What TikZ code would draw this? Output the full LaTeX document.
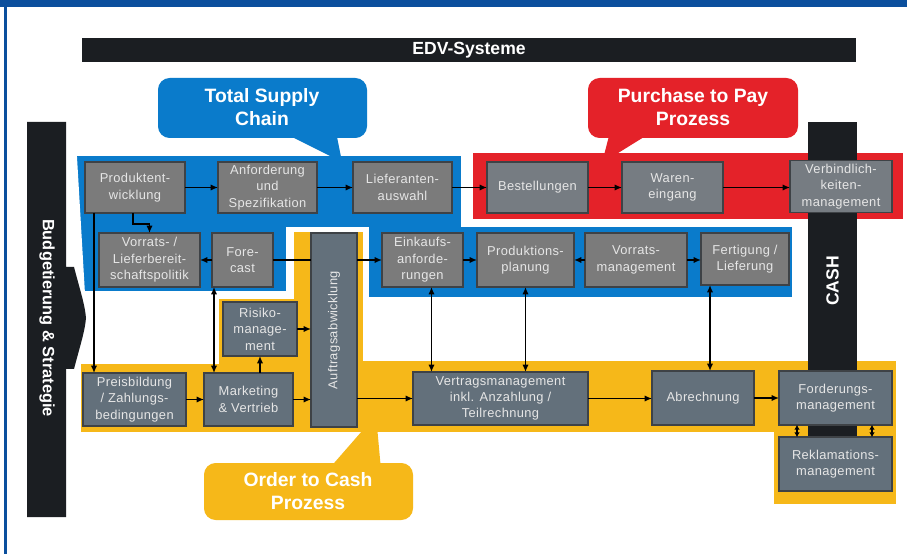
\documentclass[tikz,border=0pt]{standalone}
\usepackage{graphicx}
\usepackage{fontspec}
\setmainfont{Liberation Sans}
\newfontfamily\boxfont[LetterSpace=3]{Liberation Sans}
\usetikzlibrary{arrows.meta}
\definecolor{frameblue}{HTML}{0B4F9D}
\definecolor{tscblue}{HTML}{0A7BCB}
\definecolor{ptpred}{HTML}{E42229}
\definecolor{otcyellow}{HTML}{F6B819}
\definecolor{barblack}{HTML}{1B1E22}
\definecolor{boxgray}{HTML}{7B7B7B}
\definecolor{boxredgray}{HTML}{767C82}
\definecolor{boxslate}{HTML}{63707B}
\definecolor{boxedge}{HTML}{3E4246}
\definecolor{boxtext}{HTML}{E6E6E6}
\tikzset{
  proc/.style={draw=boxedge, line width=0.9pt, fill=boxgray, text=boxtext, align=center,
    inner sep=1pt, outer sep=0pt, minimum height=15.9mm, font=\boxfont\fontsize{11}{14}\selectfont},
  procr/.style={proc, fill=boxredgray},
  procs/.style={proc, fill=boxslate},
  conn/.style={-{Latex[length=2.2mm,width=1.9mm]}, line width=1.5pt},
  conntwo/.style={{Latex[length=2.2mm,width=1.9mm]}-{Latex[length=2.2mm,width=1.9mm]}, line width=1.5pt},
  connshort/.style={{Latex[length=1.4mm,width=1.7mm]}-{Latex[length=1.4mm,width=1.7mm]}, line width=1.5pt},
  calltext/.style={text=white, align=center, font=\bfseries\fontsize{16.5}{19}\selectfont},
  bartext/.style={text=white, inner sep=0pt, font=\bfseries\fontsize{14}{16}\selectfont}
}
\begin{document}
\begin{tikzpicture}[x=0.3mm, y=-0.3mm]
  \useasboundingbox [fill=white] (0,0) rectangle (907,554);
  \fill [frameblue] (0,0) rectangle (907,7); \fill [frameblue] (4,0) rectangle (7,554);

  \filldraw [fill=tscblue, draw=white, line width=1.5pt] (76,155) -- (462,155) -- (462,226)
    -- (793,226) -- (793,298) -- (368,298) -- (368,228) -- (287,228) -- (287,292) -- (84,292) -- cycle;
  \filldraw [fill=ptpred, draw=white, line width=1.5pt] (472,152) rectangle (904,220);
  \filldraw [fill=otcyellow, draw=white, line width=1.5pt] (80,363) -- (218,363) -- (218,298)
    -- (293,298) -- (293,231) -- (364,231) -- (364,360) -- (897,360) -- (897,505) -- (773,505)
    -- (773,433) -- (80,433) -- cycle;

  \node [fill=barblack, minimum width=232.2mm, minimum height=7.2mm, bartext,
    font=\bfseries\fontsize{15}{17}\selectfont] (edv) at (469,50) {EDV-Systeme};
  \fill [barblack] (27,122) -- (66,122) -- (66,267) -- (74,267) .. controls (80,290) and (85,305)
    .. (86,318) .. controls (85,331) and (80,346) .. (74,369) -- (66,369) -- (66,517) -- (27,517) -- cycle;
  \node [bartext, rotate=-90] (budget) at (47,318) {Budgetierung \& Strategie};
  \fill [barblack] (808,122) rectangle (857,462);
  \node [bartext, rotate=90, font=\bfseries\fontsize{15}{17}\selectfont] (cash) at (832.5,281) {CASH};

  \fill [tscblue, rounded corners=3.5mm] (158,78) rectangle (367,138);
  \fill [tscblue] (282,132) -- (342,162) -- (336,132) -- cycle;
  \node [calltext] (tsc) at (262,107) {Total Supply\\Chain};
  \fill [ptpred, rounded corners=3.5mm] (588,78) rectangle (798,138);
  \fill [ptpred] (610,132) -- (602,163) -- (652,132) -- cycle;
  \node [calltext] (ptp) at (693,107) {Purchase to Pay\\Prozess};
  \fill [otcyellow, rounded corners=3.5mm] (204,463) rectangle (413,520);
  \fill [otcyellow] (328,470) -- (376,415) -- (381,470) -- cycle;
  \node [calltext] (otc) at (308,491) {Order to Cash\\Prozess};

  \node [proc, minimum width=30mm, minimum height=15.3mm] (prodent) at (135,187.5) {Produktent-\\wicklung};
  \node [proc, minimum width=29.7mm, minimum height=15.3mm] (anford) at (267.5,187.5) {Anforderung\\und\\Spezifikation};
  \node [proc, minimum width=29.7mm, minimum height=15.3mm] (liefaus) at (402.5,187.5) {Lieferanten-\\auswahl};
  \node [procr, minimum width=30.3mm, minimum height=15.3mm] (bestell) at (537.5,187.5) {Bestellungen};
  \node [procr, minimum width=30.3mm, minimum height=15.3mm] (waren) at (672.5,187.5) {Waren-\\eingang};
  \node [procr, minimum width=30.6mm, minimum height=15.6mm] (verbind) at (841,186.5) {Verbindlich-\\keiten-\\management};
  \node [proc, minimum width=30.3mm, minimum height=16.2mm] (vorrpol) at (149.5,260) {Vorrats- /\\Lieferbereit-\\schaftspolitik};
  \node [proc, minimum width=18.3mm, minimum height=16.2mm] (forecast) at (242.5,260) {Fore-\\cast};
  \node [procs, minimum width=13.8mm, minimum height=58.2mm] (auftrag) at (334,330) {\rotatebox{90}{Auftragsabwicklung}};
  \node [proc, minimum width=24.3mm, minimum height=16.2mm] (einkauf) at (422.5,260) {Einkaufs-\\anforde-\\rungen};
  \node [proc, minimum width=29.1mm, minimum height=16.2mm] (prodplan) at (525.5,260) {Produktions-\\planung};
  \node [proc, minimum width=30.6mm, minimum height=16.2mm] (vorrman) at (636,260) {Vorrats-\\management};
  \node [proc, minimum width=26.4mm, minimum height=15.6mm] (fertig) at (745,259) {Fertigung /\\Lieferung};
  \node [procs, minimum width=22.2mm, minimum height=16.2mm] (risiko) at (260,329) {Risiko-\\manage-\\ment};
  \node [procs, minimum width=30.9mm] (preis) at (134.5,399.5) {Preisbildung\\/ Zahlungs-\\bedingungen};
  \node [procs, minimum width=26.7mm] (marketing) at (248.5,399.5) {Marketing\\\& Vertrieb};
  \node [procs, minimum width=52.5mm] (vertrag) at (500.5,398.5) {Vertragsmanagement\\inkl. Anzahlung /\\Teilrechnung};
  \node [procs, minimum width=30.6mm, minimum height=16.2mm] (abrech) at (703,398) {Abrechnung};
  \node [procs, minimum width=33.9mm, minimum height=16.2mm] (forder) at (835.5,398) {Forderungs-\\management};
  \node [procs, minimum width=33.9mm, minimum height=16.2mm] (reklam) at (835.5,464) {Reklamations-\\management};

  \draw [conn] (prodent) -- (anford); \draw [conn] (anford) -- (liefaus);
  \draw [conn] (liefaus) -- (bestell); \draw [conn] (bestell) -- (waren);
  \draw [conn] (waren) -- (waren -| verbind.west);
  \draw [conn] ([xshift=-0.6mm]prodent.south) -- ++(0,-3.3mm) -| (vorrpol.north);
  \draw [conn] ([xshift=2.7mm]prodent.south west) coordinate (pl) -- (pl |- preis.north);
  \draw [conn] (forecast) -- (vorrpol);
  \draw [line width=1.5pt] (forecast) -- (forecast -| auftrag.west);
  \draw [conn] (forecast -| auftrag.east) -- (einkauf);
  \draw [conntwo] ([xshift=0.6mm]forecast.south west) coordinate (fm) -- (fm |- marketing.north);
  \draw [conn] (marketing.north -| risiko.south) -- (risiko.south);
  \draw [conn] (risiko) -- (risiko -| auftrag.west);
  \draw [conn] (preis) -- (marketing);
  \draw [conn] (marketing) -- (marketing -| auftrag.west);
  \draw [conn] (auftrag.east |- vertrag) -- (vertrag);
  \draw [conn] (einkauf) -- (prodplan); \draw [conn] (vorrman) -- (prodplan);
  \draw [conn] (vorrman) -- (vorrman -| fertig.west);
  \draw [conntwo] ([xshift=2.7mm]einkauf.south) coordinate (ev) -- (ev |- vertrag.north);
  \draw [conntwo] (prodplan.south) -- (prodplan.south |- vertrag.north);
  \draw [conntwo] ([xshift=2.1mm]abrech.north) coordinate (af) -- (af |- fertig.south);
  \draw [conn] (vertrag) -- (vertrag -| abrech.west);
  \draw [conn] (abrech) -- (forder);
  \draw [connshort] ([xshift=5.4mm]forder.south west) coordinate (fr) -- (fr |- reklam.north);
  \draw [connshort] ([xshift=-6mm]forder.south east) coordinate (fs) -- (fs |- reklam.north);
\end{tikzpicture}
\end{document}
